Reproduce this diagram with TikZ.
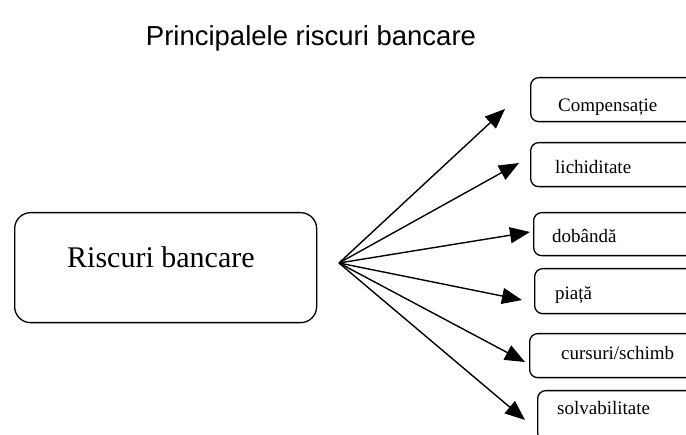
\documentclass[tikz,border=0pt]{standalone}
\usepackage{fontspec}
\setmainfont{Liberation Serif}
\newfontfamily\titlefont{Liberation Sans}
\usetikzlibrary{arrows.meta}
\begin{document}
\begin{tikzpicture}[x=1pt,y=-1pt,
  smallbox/.style={draw,line width=1.3pt,rounded corners=8pt,minimum width=200pt,minimum height=44pt,anchor=north west,inner sep=0pt},
  bigbox/.style={draw,line width=1.3pt,rounded corners=16pt,minimum width=302pt,minimum height=110pt,anchor=north west,inner sep=0pt},
  smalltext/.style={anchor=base west,inner sep=0pt,font=\fontsize{19}{21}\selectfont},
  conn/.style={line width=1.4pt,-{Triangle[length=20pt,width=16pt]}}
]
\useasboundingbox (0,0) rectangle (686,435);
\clip (0,0) rectangle (686,435);
\node[anchor=base,inner sep=0pt,font=\titlefont\fontsize{27.5}{30}\selectfont] (title) at (311,46) {Principalele riscuri bancare};
\node[bigbox] (main) at (14,212) {};
\node[anchor=base west,inner sep=0pt,font=\fontsize{30}{32}\selectfont] (maintext) at (67,268) {Riscuri bancare};
\coordinate (o) at (339,263);
\node[smallbox] (b1) at (530,77) {};
\node[smallbox] (b2) at (530,142) {};
\node[smallbox,minimum height=43pt] (b3) at (533,212) {};
\node[smallbox,minimum height=45pt] (b4) at (534,268) {};
\node[smallbox] (b5) at (529,333) {};
\node[smallbox,minimum height=50pt] (b6) at (537,390) {};
\node[smalltext] (t1) at (558,112) {Compensație};
\node[smalltext] (t2) at (555,174) {lichiditate};
\node[smalltext] (t3) at (552,243) {dobândă};
\node[smalltext] (t4) at (555,300) {piață};
\node[smalltext] (t5) at (561,360) {cursuri/schimb};
\node[smalltext] (t6) at (557,415) {solvabilitate};
\coordinate (e1) at (505,109);
\coordinate (e2) at (519,163);
\coordinate (e3) at (530,232);
\coordinate (e4) at (522,300);
\coordinate (e5) at (525,362);
\coordinate (e6) at (525,420);
\foreach \i in {1,...,6} \draw[conn] (o) -- (e\i);
\end{tikzpicture}
\end{document}
